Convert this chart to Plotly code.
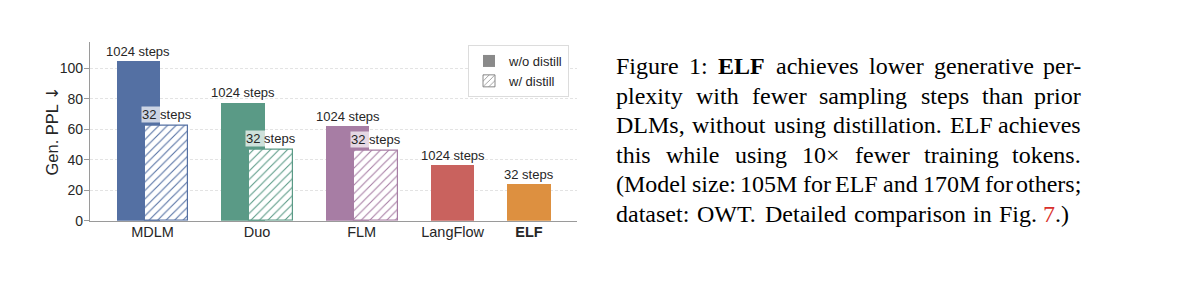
import plotly.graph_objects as go

# ---------------- data ----------------
categories = ["MDLM", "Duo", "FLM", "LangFlow", "ELF"]
ppl_wo_distill = [105.0, 77.7, 62.3, 36.7, 24.1]
ppl_w_distill = [62.3, 46.4, 45.9, None, None]
steps_wo_distill = [1024, 1024, 1024, 1024, 32]
steps_w_distill = [32, 32, 32, None, None]
y_ticks = [0, 20, 40, 60, 80, 100]
legend_labels = ["w/o distill", "w/ distill"]

caption_lines = [
    "Figure 1: **ELF** achieves lower generative per-",
    "plexity with fewer sampling steps than prior",
    "DLMs, without using distillation. ELF achieves",
    "this while using 10\u00d7 fewer training tokens.",
    "(Model size: 105M for ELF and 170M for others;",
    "dataset: OWT. Detailed comparison in Fig. [7].)",
]

# ---------------- style / layout ----------------
bar_colors = ["#5470A3", "#5A9A86", "#A77DA4", "#C9625E", "#DD9040"]
W, H = 1199, 281


def px_x(p):
    return p / W


def px_y(p):
    return 1 - p / H


group_x = [0.0, 1.0, 2.0, 2.87, 3.6]
bar_w = 0.417
off = 0.135

fig = go.Figure()

solid_x = [gx - off if d is not None else gx for gx, d in zip(group_x, ppl_w_distill)]
fig.add_trace(go.Bar(
    x=solid_x, y=ppl_wo_distill, width=bar_w,
    marker=dict(color=bar_colors, line=dict(width=0)),
    showlegend=False, hoverinfo="skip",
))

hx, hy, hc = [], [], []
for gx, v, c in zip(group_x, ppl_w_distill, bar_colors):
    if v is not None:
        hx.append(gx + off)
        hy.append(v)
        hc.append(c)
fig.add_trace(go.Bar(
    x=hx, y=hy, width=bar_w,
    marker=dict(color="white", line=dict(color=hc, width=1.2),
                pattern=dict(shape="/", fgcolor=hc, bgcolor="white", size=6,
                             solidity=0.18, fillmode="replace")),
    showlegend=False, hoverinfo="skip",
))

# legend proxies
fig.add_trace(go.Bar(x=[None], y=[None], name=legend_labels[0],
                     marker=dict(color="#8a8a8a", line=dict(width=0))))
fig.add_trace(go.Bar(x=[None], y=[None], name=legend_labels[1],
                     marker=dict(color="white", line=dict(color="#8a8a8a", width=1),
                                 pattern=dict(shape="/", fgcolor="#8a8a8a", bgcolor="white",
                                              size=5, solidity=0.2, fillmode="replace"))))

annotations = []
label_font = dict(family="Liberation Sans", size=13, color="#262626")
for xs, v, s in zip(solid_x, ppl_wo_distill, steps_wo_distill):
    annotations.append(dict(x=xs, y=v, xref="x", yref="y", text=f"{s} steps",
                            showarrow=False, yanchor="bottom", yshift=1,
                            font=label_font, borderpad=0))
for xh, v, s in zip(hx, hy, [s for s in steps_w_distill if s is not None]):
    annotations.append(dict(x=xh, y=v, xref="x", yref="y", text=f"{s} steps",
                            showarrow=False, yanchor="bottom", yshift=3,
                            bgcolor="rgba(255,255,255,0.7)",
                            font=label_font, borderpad=0))

# y axis title
annotations.append(dict(x=px_x(52), y=px_y(131.5), xref="paper", yref="paper",
                        text="Gen. PPL <span style='font-family:DejaVu Sans'>\u2193</span>",
                        textangle=-90, showarrow=False,
                        font=dict(family="Liberation Sans", size=16.5, color="#262626"),
                        xanchor="center", yanchor="middle"))

# ---------------- caption (justified, Times metrics) ----------------
TW = {' ': 250, '(': 333, ')': 333, ',': 250, '-': 333, '.': 250, ':': 278, ';': 278,
      '\u00d7': 564,
      'A': 722, 'B': 667, 'C': 667, 'D': 722, 'E': 611, 'F': 556, 'G': 722, 'H': 722,
      'I': 333, 'L': 611, 'M': 889, 'N': 722, 'O': 722, 'P': 556, 'S': 556, 'T': 611,
      'W': 944,
      'a': 444, 'b': 500, 'c': 444, 'd': 500, 'e': 444, 'f': 333, 'g': 500, 'h': 500,
      'i': 278, 'j': 278, 'k': 500, 'l': 278, 'm': 778, 'n': 500, 'o': 500, 'p': 500,
      'q': 500, 'r': 333, 's': 389, 't': 278, 'u': 500, 'v': 500, 'w': 722, 'x': 500,
      'y': 500, 'z': 444}
for d in "0123456789":
    TW[d] = 500
TWB = {'E': 667, 'L': 667, 'F': 611}

cap_size = 24
cap_left = 615
cap_right = [1082, 1082, 1082, 1082, 1082, 1070]
baseline0 = 74.8
line_gap = 29.5
descent = 5.4


def word_width(w, bold):
    tab = TWB if bold else TW
    return sum(tab.get(ch, TW.get(ch, 500)) for ch in w) * cap_size / 1000.0


for li, line in enumerate(caption_lines):
    words = line.split(" ")
    items = []
    for w in words:
        bold = w.startswith("**")
        plain = w.replace("**", "").replace("[", "").replace("]", "")
        if bold:
            html = f"<b>{plain}</b>"
        else:
            html = w.replace("[", "<span style='color:#d9302c'>").replace("]", "</span>")
        items.append((plain, html, bold))
    widths = [word_width(p, b) for p, _, b in items]
    gap = (cap_right[li] - cap_left - sum(widths)) / (len(items) - 1)
    base = baseline0 + li * line_gap
    xpos = cap_left
    for k, ((p, html, b), wdt) in enumerate(zip(items, widths)):
        if k == len(items) - 1:
            ax, anc = cap_right[li], "right"
        else:
            ax, anc = xpos, "left"
        annotations.append(dict(x=px_x(ax), y=px_y(base + descent), xref="paper", yref="paper",
                                text=html, showarrow=False, xanchor=anc, yanchor="bottom",
                                borderpad=0,
                                font=dict(family="Liberation Serif", size=cap_size, color="black")))
        xpos += wdt + gap

ticktext = [f"<b>{c}</b>" if c == "ELF" else c for c in categories]

fig.update_layout(
    template="none",
    width=W, height=H,
    margin=dict(l=0, r=0, t=0, b=0, autoexpand=False),
    paper_bgcolor="white", plot_bgcolor="white",
    barmode="overlay", bargap=0,
    font=dict(family="Liberation Sans", color="#262626"),
    xaxis=dict(domain=[px_x(90), px_x(577)], range=[-0.598, 4.059],
               tickvals=group_x, ticktext=ticktext, ticks="",
               showline=True, linecolor="#9a9a9a", linewidth=1.2,
               showgrid=False, zeroline=False, automargin=False,
               ticklabelstandoff=-2,
               tickfont=dict(family="Liberation Sans", size=14.5, color="#262626")),
    yaxis=dict(domain=[px_y(220.7), px_y(41.7)], range=[0, 117.5],
               tickvals=y_ticks, ticks="outside", ticklen=5, tickcolor="#9a9a9a",
               showline=True, linecolor="#9a9a9a", linewidth=1.2,
               showgrid=True, gridcolor="#e3e3e3", griddash="3px,2px", gridwidth=0.8,
               zeroline=False, automargin=False, ticklabelstandoff=-2,
               tickfont=dict(family="Liberation Sans", size=14, color="#262626")),
    legend=dict(x=px_x(468), y=px_y(45), xanchor="left", yanchor="top",
                bordercolor="#dcdcdc", borderwidth=1, bgcolor="white",
                font=dict(family="Liberation Sans", size=13, color="#262626"),
                tracegroupgap=0, itemwidth=30),
    annotations=annotations,
)

fig.write_html("out.html")
